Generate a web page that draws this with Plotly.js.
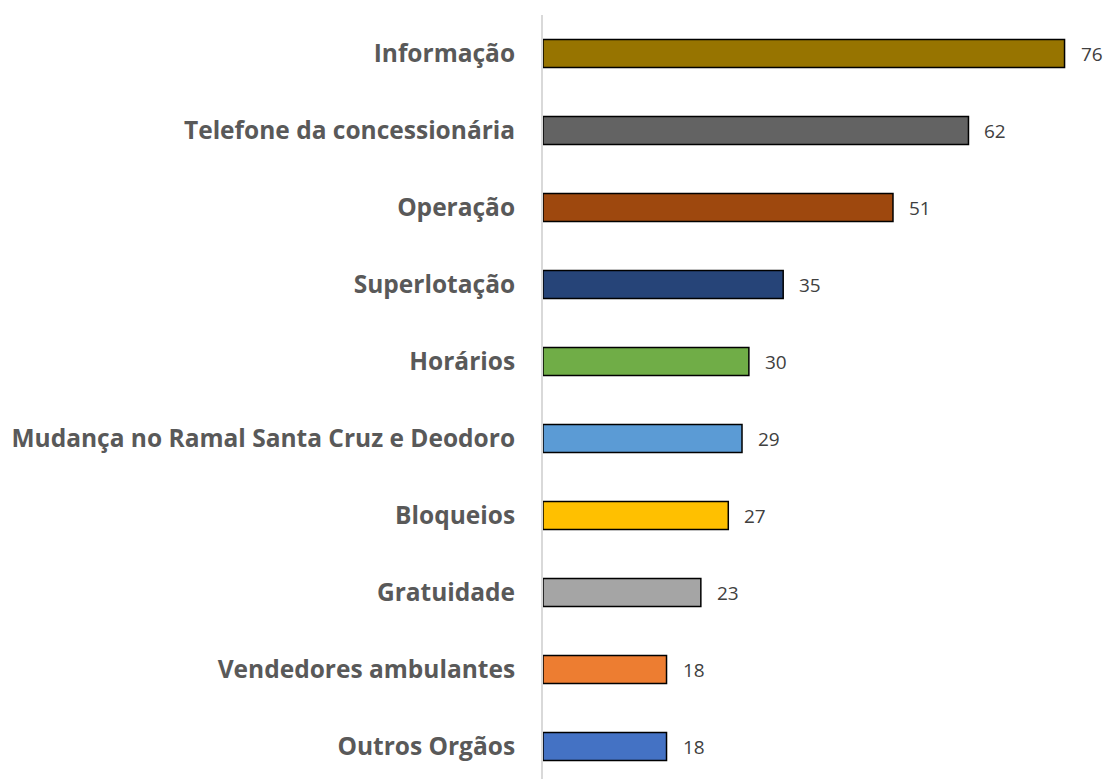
<!DOCTYPE html>
<html>
<head>
<meta charset="utf-8">
<script src="https://cdn.plot.ly/plotly-3.0.1.min.js"></script>
<style>
html,body{margin:0;padding:0;overflow:hidden;background:#fff;}
#chart{width:1108px;height:785px;}
</style>
</head>
<body>
<div id="chart"></div>
<script>
const categories = ["Informação","Telefone da concessionária","Operação","Superlotação","Horários","Mudança no Ramal Santa Cruz e Deodoro","Bloqueios","Gratuidade","Vendedores ambulantes","Outros Orgãos"];
const values = [76,62,51,35,30,29,27,23,18,18];
const barColors = ["#977400","#636363","#9E480E","#264478","#70AD47","#5B9BD5","#FFC000","#A5A5A5","#ED7D31","#4472C4"];

const trace = {
  type: "bar",
  orientation: "h",
  x: values,
  y: categories,
  marker: {color: barColors, line: {color: "#000000", width: 1.5}},
  hoverinfo: "none"
};

const annotations = values.map((v, i) => ({
  x: v, y: categories[i], xref: "x", yref: "y",
  text: String(v), showarrow: false, xanchor: "left", xshift: 14,
  font: {family: "Open Sans, sans-serif", size: 19, color: "#404040"}
}));

const layout = {
  width: 1108, height: 785,
  margin: {l: 543, r: 15.6, t: 15, b: 0, pad: 0},
  paper_bgcolor: "#ffffff", plot_bgcolor: "#ffffff",
  showlegend: false,
  bargap: 0.636,
  xaxis: {range: [0, 80], visible: false, fixedrange: true},
  yaxis: {
    autorange: "reversed", type: "category",
    showline: true, linecolor: "#d9d9d9", linewidth: 2,
    showgrid: false, zeroline: false, ticks: "",
    ticklabelstandoff: 21,
    tickfont: {family: "Open Sans, sans-serif", size: 24.5, color: "#595959", weight: "bold"}
  },
  annotations: annotations
};

Plotly.newPlot("chart", [trace], layout, {displayModeBar: false, staticPlot: true});
</script>
</body>
</html>
